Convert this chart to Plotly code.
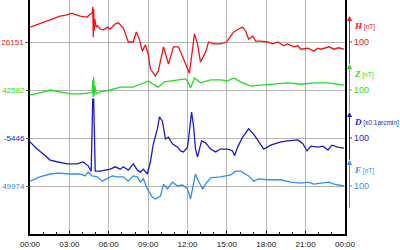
import plotly.graph_objects as go

# ---- data (time in hours, values in instrument units) ----
tick_hours = [0, 3, 6, 9, 12, 15, 18, 21, 24]
tick_labels = ["00:00", "03:00", "06:00", "09:00", "12:00", "15:00", "18:00", "21:00", "00:00"]

h_base = 26151
z_base = 42582
d_base = -5446
f_base = 49974

h_time = [0.00, 0.76, 1.53, 2.29, 2.75, 3.21, 3.36, 3.82, 4.36, 4.59, 4.74, 4.78, 4.82, 4.85, 4.89, 4.93,
          5.04, 5.12, 5.35, 5.58, 5.89, 6.11, 6.50, 6.73, 7.11, 7.49, 7.87, 8.10, 8.33, 8.56, 8.79, 9.02,
          9.17, 9.55, 9.78, 10.17, 10.55, 10.93, 11.31, 11.69, 12.15, 12.53, 12.76, 12.99, 13.22, 13.38,
          13.60, 13.99, 14.52, 14.98, 15.29, 15.52, 15.90, 16.20, 16.43, 16.66, 16.97, 17.20, 17.58, 18.11,
          18.50, 18.88, 19.34, 19.60, 20.10, 20.40, 20.64, 21.17, 21.63, 21.90, 22.17, 22.50, 22.78, 23.16,
          23.50, 23.92]
h_vals = [26182, 26189, 26197, 26205, 26207, 26211, 26209, 26205, 26203, 26209, 26211, 26224, 26161, 26220,
          26174, 26199, 26182, 26185, 26178, 26176, 26182, 26178, 26189, 26191, 26180, 26151, 26151, 26172,
          26157, 26132, 26145, 26124, 26095, 26080, 26091, 26141, 26105, 26141, 26141, 26116, 26086, 26168,
          26147, 26109, 26122, 26130, 26151, 26147, 26147, 26151, 26163, 26172, 26178, 26182, 26174, 26157,
          26163, 26153, 26153, 26151, 26147, 26151, 26143, 26147, 26141, 26143, 26136, 26138, 26132, 26138,
          26136, 26139, 26141, 26136, 26139, 26136]

z_time = [0.00, 0.76, 1.53, 2.29, 3.06, 3.82, 4.59, 4.74, 4.78, 4.82, 4.85, 4.89, 4.93, 5.04, 5.35, 6.11,
          6.88, 7.41, 7.87, 8.41, 9.02, 9.40, 9.78, 10.24, 10.85, 11.31, 11.85, 12.08, 12.23, 12.53, 12.99,
          13.76, 14.52, 15.06, 15.52, 16.05, 16.81, 17.58, 18.57, 19.64, 20.64, 21.63, 22.70, 23.92]
z_vals = [42572, 42576, 42582, 42578, 42574, 42574, 42576, 42578, 42603, 42567, 42609, 42570, 42592, 42574,
          42578, 42582, 42588, 42588, 42588, 42594, 42601, 42594, 42588, 42599, 42601, 42603, 42605, 42597,
          42586, 42607, 42597, 42603, 42603, 42601, 42607, 42599, 42590, 42592, 42594, 42597, 42594, 42597,
          42597, 42592]

d_time = [0.00, 0.54, 0.99, 1.53, 2.14, 2.83, 3.59, 4.05, 4.43, 4.66, 4.78, 4.85, 4.97, 5.35, 6.11, 6.50,
          6.88, 7.11, 7.49, 7.87, 8.18, 8.41, 8.64, 8.94, 9.17, 9.40, 9.71, 9.86, 10.09, 10.32, 10.55, 10.85,
          11.24, 11.47, 11.69, 12.00, 12.08, 12.31, 12.46, 12.61, 12.76, 13.07, 13.38, 13.76, 14.14, 14.52,
          15.06, 15.44, 15.59, 15.82, 16.20, 16.66, 17.04, 17.43, 17.81, 18.34, 19.11, 19.64, 20.41, 20.79,
          21.10, 21.40, 21.94, 22.32, 22.70, 23.01, 23.46, 23.92]
d_vals = [-5454, -5469, -5479, -5492, -5496, -5500, -5500, -5496, -5504, -5515, -5365, -5365, -5515, -5515,
          -5511, -5506, -5511, -5506, -5513, -5500, -5513, -5517, -5511, -5521, -5496, -5458, -5427, -5402,
          -5411, -5448, -5444, -5458, -5465, -5473, -5475, -5465, -5448, -5392, -5421, -5469, -5486, -5452,
          -5456, -5469, -5475, -5469, -5469, -5473, -5483, -5465, -5444, -5427, -5438, -5454, -5469, -5461,
          -5454, -5452, -5450, -5458, -5473, -5463, -5465, -5463, -5471, -5461, -5465, -5467]

f_time = [0.00, 0.76, 1.53, 2.14, 3.06, 3.82, 4.20, 4.43, 4.74, 5.12, 5.50, 5.89, 6.27, 6.65, 7.11, 7.49,
          7.87, 8.18, 8.41, 8.64, 8.94, 9.32, 9.55, 9.94, 10.17, 10.47, 10.85, 11.24, 11.62, 12.00, 12.23,
          12.61, 12.84, 13.15, 13.38, 13.76, 14.52, 15.29, 15.67, 16.05, 16.28, 16.66, 17.04, 17.43, 18.11,
          19.11, 19.87, 20.64, 21.17, 21.63, 22.17, 22.78, 23.16, 23.92]
f_vals = [49984, 49993, 49999, 50001, 49999, 49999, 49995, 50003, 49995, 49993, 49984, 49989, 49995, 49993,
          49993, 49984, 49995, 49993, 49982, 49989, 49968, 49951, 49947, 49953, 49978, 49968, 49982, 49974,
          49976, 49968, 49947, 49999, 49984, 49968, 49978, 49991, 49993, 49997, 50005, 50005, 50001, 49995,
          49984, 49989, 49987, 49987, 49982, 49980, 49982, 49978, 49980, 49982, 49978, 49974]

H_COL = "#f01515"
Z_COL = "#22dd22"
D_COL = "#1c1ccc"
F_COL = "#2e8ff0"
GRID = "#b4b4b4"

# ---- layout geometry ----
W, HGT = 400, 250
ML, MR, MT, MB = 30, 55, 0, 16
plot_h = HGT - MT - MB
span = plot_h / 48 * 100  # 100 units per 48 px
offsets = {"y": 400, "y2": 300, "y3": 200, "y4": 100}

series = [
    ("y", h_base, h_time, h_vals, H_COL, "H", "[nT]"),
    ("y2", z_base, z_time, z_vals, Z_COL, "Z", "[nT]"),
    ("y3", d_base, d_time, d_vals, D_COL, "D", "[x0.1arcmin]"),
    ("y4", f_base, f_time, f_vals, F_COL, "F", "[nT]"),
]

fig = go.Figure()
for yref, base, t, v, col, sym, unit in series:
    fig.add_trace(go.Scatter(x=t, y=v, mode="lines", yaxis=yref,
                             line=dict(color=col, width=1.3), hoverinfo="skip", showlegend=False))


def px_to_paper(px):
    return (px - ML) / (W - ML - MR)


layout_axes = {}
annotations = []
shapes = []
for i, (yref, base, t, v, col, sym, unit) in enumerate(series):
    lo = base - offsets[yref]
    ax = dict(range=[lo, lo + span], tickvals=[base], ticktext=[str(base)],
              tickfont=dict(color=col, size=8, family="Liberation Sans, Arial"),
              showgrid=True, gridcolor=GRID, gridwidth=1, zeroline=False,
              ticks="outside", ticklen=3, tickcolor="#555", fixedrange=True)
    if i == 0:
        ax.update(showline=True, mirror=True, linecolor="black", linewidth=1.5)
    else:
        ax.update(overlaying="y", side="left", showline=False)
    name = "yaxis" if i == 0 else "yaxis%d" % (i + 1)
    layout_axes[name] = ax

    # scale bar arrow (100 units)
    annotations.append(dict(x=px_to_paper(349.5), xref="paper", y=base + 54, yref=yref,
                            ax=0, ay=49, text="", showarrow=True, arrowhead=2, arrowsize=1,
                            arrowwidth=1, arrowcolor=col, standoff=0))
    annotations.append(dict(x=px_to_paper(352), xref="paper", y=base, yref=yref,
                            text="100", showarrow=False, xanchor="left", yanchor="middle",
                            font=dict(color=col, size=9, family="Liberation Sans, Arial")))
    lab = ("<span style='font-family:Liberation Serif;font-size:9px'><b><i>%s</i></b></span> %s"
           % (sym, unit))
    annotations.append(dict(x=px_to_paper(352), xref="paper", y=base + 33, yref=yref,
                            text=lab, showarrow=False, xanchor="left", yanchor="middle",
                            font=dict(color=col, size=6.5, family="Liberation Sans, Arial")))
    shapes.append(dict(type="line", xref="paper", yref=yref, x0=px_to_paper(349.5), x1=px_to_paper(352),
                       y0=base, y1=base, line=dict(color=col, width=1)))

fig.update_layout(
    width=W, height=HGT,
    margin=dict(l=ML, r=MR, t=MT, b=MB, pad=0),
    paper_bgcolor="white", plot_bgcolor="white",
    xaxis=dict(range=[0, 24], tickvals=tick_hours, ticktext=tick_labels,
               tickfont=dict(size=8, color="#111", family="Liberation Sans, Arial"),
               showgrid=True, gridcolor=GRID, gridwidth=1, zeroline=False,
               showline=True, linecolor="black", linewidth=1.5, mirror=False,
               ticks="inside", ticklen=3, tickcolor="black", ticklabelstandoff=2,
               minor=dict(dtick=1, ticks="inside", ticklen=2, tickcolor="black", showgrid=False),
               fixedrange=True),
    annotations=annotations,
    shapes=shapes,
    showlegend=False,
    **layout_axes,
)

fig.write_html("out.html", config={"displayModeBar": False})
